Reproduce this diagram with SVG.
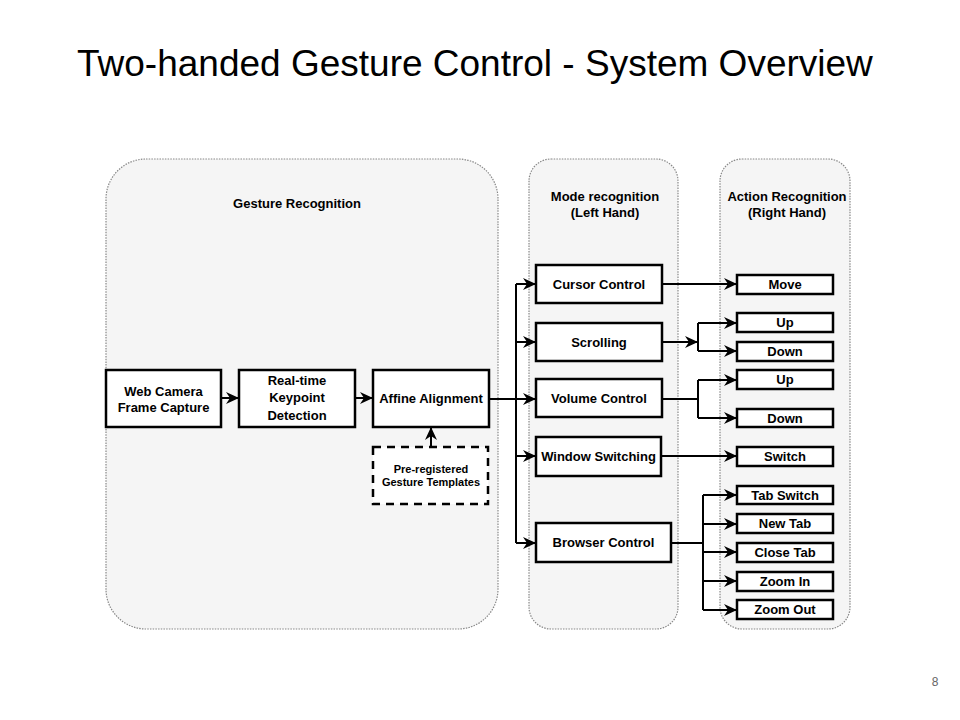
<svg xmlns="http://www.w3.org/2000/svg" width="960" height="720" viewBox="0 0 960 720">
<defs>
<marker id="arr" viewBox="0 0 13 12" refX="13" refY="6" markerWidth="13" markerHeight="12" markerUnits="userSpaceOnUse" orient="auto">
<path d="M0,0 L13,6 L0,12 L4,6 Z" fill="#000"/>
</marker>
<style>
.cont{fill:#f5f5f5;stroke:#888;stroke-width:1.2;stroke-dasharray:1.5 1.2}
.box{fill:#fff;stroke:#000;stroke-width:2.5}
.dbox{fill:#fff;stroke:#000;stroke-width:2.5;stroke-dasharray:8 6}
.t{font-family:"Liberation Sans",Arial,sans-serif;font-weight:bold;font-size:13px;fill:#000;text-anchor:middle}
.s{font-size:11px}
.c{fill:none;stroke:#000;stroke-width:2}
.a{marker-end:url(#arr)}
</style>
</defs>
<rect width="960" height="720" fill="#fff"/>
<text x="77" y="76" font-family="'Liberation Sans',Arial,sans-serif" font-size="37" fill="#000">Two-handed Gesture Control - System Overview</text>
<text x="935" y="686" font-family="'Liberation Sans',Arial,sans-serif" font-size="12" fill="#666" text-anchor="middle">8</text>

<g id="gesture-recognition">
<rect class="cont" x="106" y="159" width="392" height="470" rx="40"/>
<text class="t" x="297" y="208">Gesture Recognition</text>
</g>
<g id="mode-recognition">
<rect class="cont" x="529" y="159" width="149" height="470" rx="22"/>
<text class="t" x="605" y="201">Mode recognition</text>
<text class="t" x="605" y="217">(Left Hand)</text>
</g>
<g id="action-recognition">
<rect class="cont" x="720" y="159" width="130" height="470" rx="22"/>
<text class="t" x="787" y="201">Action Recognition</text>
<text class="t" x="787" y="217">(Right Hand)</text>
</g>

<g id="connectors">
<path class="c a" d="M221,398 H239"/>
<path class="c a" d="M355,398 H373"/>
<path class="c a" d="M431,447 V427"/>
<path class="c" d="M489,399 H516"/>
<path class="c" d="M516,284 V543"/>
<path class="c a" d="M516,284 H536"/>
<path class="c a" d="M516,342 H536"/>
<path class="c a" d="M516,399 H536"/>
<path class="c a" d="M516,456 H536"/>
<path class="c a" d="M516,543 H536"/>
<path class="c a" d="M662,284 H737"/>
<path class="c a" d="M662,342 H698"/>
<path class="c" d="M698,323 V351"/>
<path class="c a" d="M698,323 H737"/>
<path class="c a" d="M698,351 H737"/>
<path class="c" d="M662,399 H698"/>
<path class="c" d="M698,380 V418"/>
<path class="c a" d="M698,380 H737"/>
<path class="c a" d="M698,418 H737"/>
<path class="c a" d="M661,456 H737"/>
<path class="c" d="M671,543 H703"/>
<path class="c" d="M703,495 V610"/>
<path class="c a" d="M703,495 H737"/>
<path class="c a" d="M703,524 H737"/>
<path class="c a" d="M703,552 H737"/>
<path class="c a" d="M703,581 H737"/>
<path class="c a" d="M703,610 H737"/>
</g>

<g id="web-camera"><rect class="box" x="106" y="370" width="115" height="57"/><text class="t" x="163.5" y="396">Web Camera</text><text class="t" x="163.5" y="412">Frame Capture</text></g>
<g id="keypoint"><rect class="box" x="239" y="370" width="116" height="57"/><text class="t" x="297" y="385">Real-time</text><text class="t" x="297" y="402">Keypoint</text><text class="t" x="297" y="420">Detection</text></g>
<g id="affine"><rect class="box" x="373" y="370" width="116" height="57"/><text class="t" x="431" y="403">Affine Alignment</text></g>
<g id="templates"><rect class="dbox" x="373" y="447" width="115" height="57"/><text class="t s" x="431" y="473">Pre-registered</text><text class="t s" x="431" y="486">Gesture Templates</text></g>

<g id="cursor-control"><rect class="box" x="536" y="265" width="126" height="38"/><text class="t" x="599" y="289">Cursor Control</text></g>
<g id="scrolling"><rect class="box" x="536" y="323" width="126" height="38"/><text class="t" x="599" y="347">Scrolling</text></g>
<g id="volume-control"><rect class="box" x="536" y="379" width="126" height="38"/><text class="t" x="599" y="403">Volume Control</text></g>
<g id="window-switching"><rect class="box" x="536" y="437" width="125" height="39"/><text class="t" x="598.5" y="461">Window Switching</text></g>
<g id="browser-control"><rect class="box" x="536" y="523" width="135" height="39"/><text class="t" x="603.5" y="547">Browser Control</text></g>

<g id="move"><rect class="box" x="737" y="275" width="96" height="19"/><text class="t" x="785" y="289">Move</text></g>
<g id="scroll-up"><rect class="box" x="737" y="313" width="96" height="19"/><text class="t" x="785" y="327">Up</text></g>
<g id="scroll-down"><rect class="box" x="737" y="342" width="96" height="19"/><text class="t" x="785" y="356">Down</text></g>
<g id="volume-up"><rect class="box" x="737" y="370" width="96" height="19"/><text class="t" x="785" y="384">Up</text></g>
<g id="volume-down"><rect class="box" x="737" y="409" width="96" height="18"/><text class="t" x="785" y="423">Down</text></g>
<g id="switch"><rect class="box" x="737" y="447" width="96" height="19"/><text class="t" x="785" y="461">Switch</text></g>
<g id="tab-switch"><rect class="box" x="737" y="486" width="96" height="18"/><text class="t" x="785" y="500">Tab Switch</text></g>
<g id="new-tab"><rect class="box" x="737" y="514" width="96" height="19"/><text class="t" x="785" y="528">New Tab</text></g>
<g id="close-tab"><rect class="box" x="737" y="543" width="96" height="19"/><text class="t" x="785" y="557">Close Tab</text></g>
<g id="zoom-in"><rect class="box" x="737" y="572" width="96" height="19"/><text class="t" x="785" y="586">Zoom In</text></g>
<g id="zoom-out"><rect class="box" x="737" y="600" width="96" height="19"/><text class="t" x="785" y="614">Zoom Out</text></g>
</svg>
